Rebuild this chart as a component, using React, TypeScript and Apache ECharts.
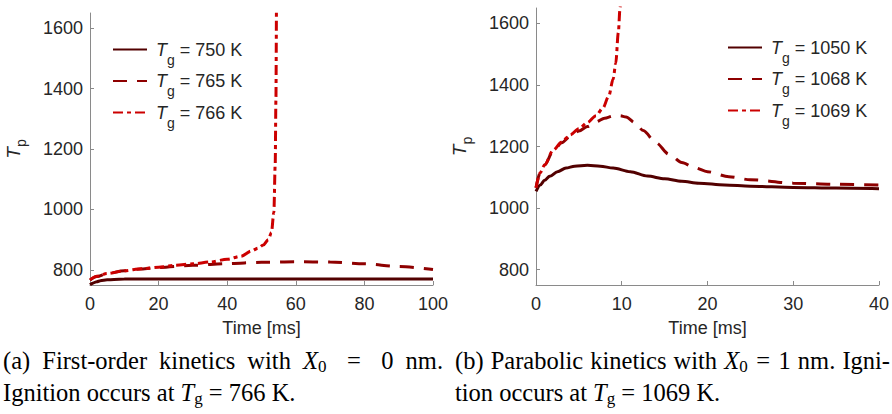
import React, { useEffect, useRef } from "react";
import * as echarts from "echarts";

// ---------- data ----------
// (a) First-order kinetics, X0 = 0 nm
const aT750 = [0, 1, 2, 3, 5, 7, 10, 15, 20, 30, 40, 50, 60, 70, 80, 90, 100];
const aV750 = [751, 757, 761, 764, 767, 768.5, 769.5, 770, 770, 770, 770, 770, 770, 770, 770, 770, 770];

const aT765 = [0, 2, 5, 10, 15, 20, 30, 40, 50, 60, 70, 80, 90, 100];
const aV765 = [766, 778, 788, 797, 803, 808, 815, 821, 825, 827, 826, 820, 811, 801];

const aT766 = [0, 2, 5, 10, 15, 20, 25, 30, 35, 40, 44, 47, 49, 50.5, 52, 52.9, 53.6, 54.0, 54.2, 54.35];
const aV766 = [767, 779, 788, 797, 804, 809, 815, 820, 826, 835, 845, 862, 872, 882, 900, 924, 990, 1150, 1360, 1660];

// (b) Parabolic kinetics, X0 = 1 nm
const bT1050 = [0, 0.5, 1, 1.6, 2.5, 3.5, 4.5, 6, 7.5, 9, 11, 13, 15, 17, 19, 22, 25, 30, 35, 40];
const bV1050 = [1054, 1075, 1090, 1103, 1118, 1130, 1136, 1139, 1136, 1130, 1118, 1104, 1095, 1087, 1081, 1075, 1071, 1067, 1065, 1063];

const bT1068 = [0, 0.5, 1, 2, 3, 4, 5, 6, 7, 8, 9, 9.8, 10.5, 11.5, 12.5, 14, 15.5, 17, 18.5, 20, 22.5, 25, 30, 35, 40];
const bV1068 = [1066, 1115, 1140, 1185, 1212, 1233, 1250, 1265, 1280, 1292, 1299, 1300, 1296, 1278, 1252, 1212, 1175, 1148, 1131, 1118, 1102, 1092, 1081, 1077, 1075];

const bT1069 = [0, 0.5, 1, 2, 3, 4, 5, 6, 7, 7.8, 8.5, 9.0, 9.3, 9.6, 9.8, 9.9];
const bV1069 = [1066, 1115, 1140, 1188, 1215, 1238, 1258, 1278, 1300, 1325, 1365, 1420, 1470, 1570, 1650, 1700];

const yTicks = [800, 1000, 1200, 1400, 1600];
const seriesNamesA = ["750", "765", "766"];
const seriesNamesB = ["1050", "1068", "1069"];

// ---------- styling ----------
const SANS = "Liberation Sans, Arial, Helvetica, sans-serif";
const SERIF = "Liberation Serif, Times New Roman, serif";
const C_SOLID = "#520000";
const C_DASH = "#8e0000";
const C_DASHDOT = "#cc0000";
const DASH = [14, 10];
const DASHDOT = [10, 4, 4, 4];
const AXIS_COL = "#8a8a8a";
const TXT_COL = "#262626";
const FS = 18;

const zip = (t: number[], v: number[]) => t.map((x, i) => [x, v[i]]);

const legendRich = {
  i: { fontStyle: "italic", fontSize: FS, fontFamily: SANS, color: TXT_COL, padding: [0, 0, 0, 4] },
  s: { fontSize: 14, fontFamily: SANS, color: TXT_COL, padding: [20, 0, 0, 0] },
  n: { fontSize: FS, fontFamily: SANS, color: TXT_COL },
};

const CAP = 24.5;
const SUB = 17;
const capRich = {
  n: { fontSize: CAP, fontFamily: SERIF, fill: "#000", lineHeight: 30 },
  i: { fontSize: CAP, fontFamily: SERIF, fontStyle: "italic", fill: "#000", lineHeight: 30 },
  s: { fontSize: SUB, fontFamily: SERIF, fill: "#000", lineHeight: 30, padding: [12, 0, 0, 0] },
};

type Tok = { t: string; k?: "n" | "i" | "s" };

let measureCtx: CanvasRenderingContext2D | null = null;
function tokWidth(tok: Tok) {
  if (!measureCtx) measureCtx = document.createElement("canvas").getContext("2d");
  const k = tok.k || "n";
  const size = k === "s" ? SUB : CAP;
  measureCtx!.font = `${k === "i" ? "italic " : ""}${size}px ${SERIF}`;
  return measureCtx!.measureText(tok.t).width;
}
const richOf = (w: Tok[]) => w.map((t) => `{${t.k || "n"}|${t.t}}`).join("");

function capText(w: Tok[], x: number, y: number) {
  return {
    type: "text",
    x,
    y,
    silent: true,
    style: { text: richOf(w), rich: capRich, verticalAlign: "middle", align: "left", fill: "#000", fontFamily: SERIF, fontSize: CAP },
  };
}

function justified(words: Tok[][], weights: number[], x0: number, x1: number, y: number) {
  const widths = words.map((w) => w.reduce((s, t) => s + tokWidth(t), 0));
  const total = widths.reduce((a, b) => a + b, 0);
  const wsum = weights.reduce((a, b) => a + b, 0);
  const free = x1 - x0 - total;
  const els: any[] = [];
  let x = x0;
  words.forEach((w, i) => {
    els.push(capText(w, x, y));
    x += widths[i] + (i < weights.length ? (free * weights[i]) / wsum : 0);
  });
  return els;
}

function xAxisCfg(gridIndex: number, max: number, interval: number) {
  return {
    type: "value",
    gridIndex,
    min: 0,
    max,
    interval,
    name: "Time [ms]",
    nameLocation: "middle",
    nameGap: 34,
    nameTextStyle: { fontSize: FS, color: TXT_COL, fontFamily: SANS },
    axisLine: { show: true, onZero: false, lineStyle: { color: AXIS_COL, width: 1 } },
    axisTick: { show: true, inside: true, length: 4, lineStyle: { color: AXIS_COL } },
    axisLabel: { fontSize: FS, color: TXT_COL, fontFamily: SANS, margin: 10, formatter: (v: number) => String(v) },
    splitLine: { show: false },
  };
}
function yAxisCfg(gridIndex: number) {
  return {
    type: "value",
    gridIndex,
    min: 750,
    max: 1650,
    name: "{i|T}{s|p}",
    nameLocation: "middle",
    nameGap: 62,
    nameRotate: 90,
    nameTextStyle: {
      rich: {
        i: { fontStyle: "italic", fontSize: 19, fontFamily: SANS, color: TXT_COL },
        s: { fontSize: 14, fontFamily: SANS, color: TXT_COL, padding: [16, 0, 0, 0] },
      },
    },
    axisLine: { show: true, onZero: false, lineStyle: { color: AXIS_COL, width: 1 } },
    axisTick: { show: true, inside: true, length: 4, customValues: yTicks, lineStyle: { color: AXIS_COL } },
    axisLabel: { fontSize: FS, color: TXT_COL, fontFamily: SANS, margin: 7, customValues: yTicks, formatter: (v: number) => String(v) },
    splitLine: { show: false },
  };
}

function lineSeries(name: string, idx: number, data: number[][], color: string, type: any) {
  return {
    type: "line",
    name,
    xAxisIndex: idx,
    yAxisIndex: idx,
    data,
    symbol: "none",
    smooth: 0.3,
    smoothMonotone: "x",
    clip: true,
    lineStyle: { color, width: 3, type },
    itemStyle: { color },
  };
}

function legendCfg(names: string[], left: number, top: number) {
  return {
    data: names,
    orient: "vertical",
    left,
    top,
    itemWidth: 34,
    itemHeight: 20,
    itemGap: 5.5,
    padding: 0,
    itemStyle: { opacity: 0 },
    formatter: (n: string) => `{i|T}{s|g}{n| = ${n} K}`,
    textStyle: { rich: legendRich, fontSize: FS, color: TXT_COL, fontFamily: SANS },
  };
}

export default function App() {
  const ref = useRef<HTMLDivElement>(null);
  useEffect(() => {
    const chart = echarts.init(ref.current!, null, { renderer: "svg" });
    const capLines: any[] = [
      ...justified(
        [[{ t: "(a)" }], [{ t: "First-order" }], [{ t: "kinetics" }], [{ t: "with" }], [{ t: "X", k: "i" }, { t: "0", k: "s" }], [{ t: "=" }], [{ t: "0" }], [{ t: "nm." }]],
        [1, 1, 1, 1, 1.7, 1.7, 1],
        3,
        443,
        360
      ),
      capText([{ t: "Ignition occurs at " }, { t: "T", k: "i" }, { t: "g", k: "s" }, { t: " = 766 K." }], 3, 392),
      ...justified(
        [[{ t: "(b)" }], [{ t: "Parabolic" }], [{ t: "kinetics" }], [{ t: "with" }], [{ t: "X", k: "i" }, { t: "0", k: "s" }], [{ t: "=" }], [{ t: "1" }], [{ t: "nm." }], [{ t: "Igni-" }]],
        [1, 1, 1, 1, 1.2, 1.2, 1, 1],
        455,
        890,
        360
      ),
      capText([{ t: "tion occurs at " }, { t: "T", k: "i" }, { t: "g", k: "s" }, { t: " = 1069 K." }], 455, 392),
    ];

    chart.setOption({
      animation: false,
      backgroundColor: "#fff",
      textStyle: { fontFamily: SANS },
      grid: [
        { left: 90, top: 13, width: 343, height: 272 },
        { left: 536, top: 8, width: 347, height: 277 },
      ],
      xAxis: [xAxisCfg(0, 100, 20), xAxisCfg(1, 40, 10)],
      yAxis: [yAxisCfg(0), yAxisCfg(1)],
      legend: [legendCfg(seriesNamesA, 112, 40.5), legendCfg(seriesNamesB, 727, 38.5)],
      series: [
        lineSeries(seriesNamesA[0], 0, zip(aT750, aV750), C_SOLID, "solid"),
        lineSeries(seriesNamesA[1], 0, zip(aT765, aV765), C_DASH, DASH),
        lineSeries(seriesNamesA[2], 0, zip(aT766, aV766), C_DASHDOT, DASHDOT),
        lineSeries(seriesNamesB[0], 1, zip(bT1050, bV1050), C_SOLID, "solid"),
        lineSeries(seriesNamesB[1], 1, zip(bT1068, bV1068), C_DASH, DASH),
        lineSeries(seriesNamesB[2], 1, zip(bT1069, bV1069), C_DASHDOT, DASHDOT),
      ],
      graphic: capLines,
    });
    return () => chart.dispose();
  }, []);
  return <div ref={ref} style={{ position: "fixed", left: 0, top: 0, width: 892, height: 414 }} />;
}
